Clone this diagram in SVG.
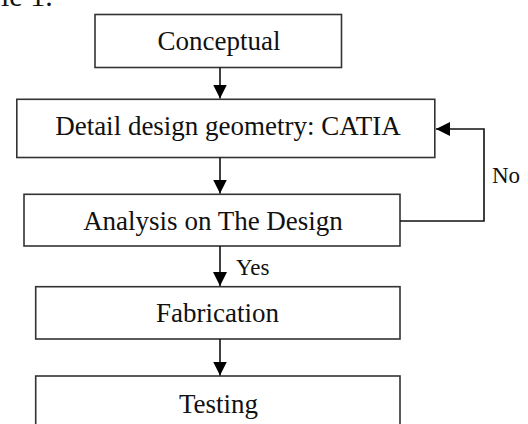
<svg xmlns="http://www.w3.org/2000/svg" width="528" height="424" viewBox="0 0 528 424">
<style>
.box{fill:#fff;stroke:#333;stroke-width:1.6}
.lbl{font-family:"Liberation Serif","Times New Roman",serif;font-size:27px;fill:#111;text-anchor:middle}
.sm{font-family:"Liberation Serif","Times New Roman",serif;font-size:23px;fill:#111}
.conn{fill:none;stroke:#111;stroke-width:1.6}
</style>
<defs>
<marker id="ah" markerUnits="userSpaceOnUse" markerWidth="14" markerHeight="14" viewBox="0 0 14 14" refX="14" refY="7" orient="auto">
<path d="M0,0 L14,7 L0,14 Z" fill="#000"/>
</marker>
</defs>
<rect width="528" height="424" fill="#fff"/>
<text x="1" y="6" style="font-family:'Liberation Serif','Times New Roman',serif;font-size:30px;fill:#111">le 1.</text>
<g id="conceptual">
<rect class="box" x="95" y="14.5" width="246.5" height="53"/>
<text class="lbl" x="219" y="50">Conceptual</text>
</g>
<g id="detail">
<rect class="box" x="16.8" y="99.3" width="418" height="58.2"/>
<text class="lbl" x="228" y="135">Detail design geometry: CATIA</text>
</g>
<g id="analysis">
<rect class="box" x="24" y="194.3" width="376" height="51.7"/>
<text class="lbl" x="213" y="230">Analysis on The Design</text>
</g>
<g id="fabrication">
<rect class="box" x="35.7" y="286.7" width="364.3" height="52.3"/>
<text class="lbl" x="217.5" y="322">Fabrication</text>
</g>
<g id="testing">
<rect class="box" x="35.7" y="376" width="364.3" height="60"/>
<text class="lbl" x="218.5" y="413">Testing</text>
</g>
<g id="connectors">
<line class="conn" x1="220" y1="67.5" x2="220" y2="98.5" marker-end="url(#ah)"/>
<line class="conn" x1="220" y1="157.5" x2="220" y2="193.5" marker-end="url(#ah)"/>
<line class="conn" x1="220" y1="246" x2="220" y2="286" marker-end="url(#ah)"/>
<line class="conn" x1="220" y1="339" x2="220" y2="375.5" marker-end="url(#ah)"/>
<polyline class="conn" points="400,221 484,221 484,129 436,129" marker-end="url(#ah)"/>
<text class="sm" x="236" y="275">Yes</text>
<text class="sm" x="492" y="183">No</text>
</g>
</svg>
